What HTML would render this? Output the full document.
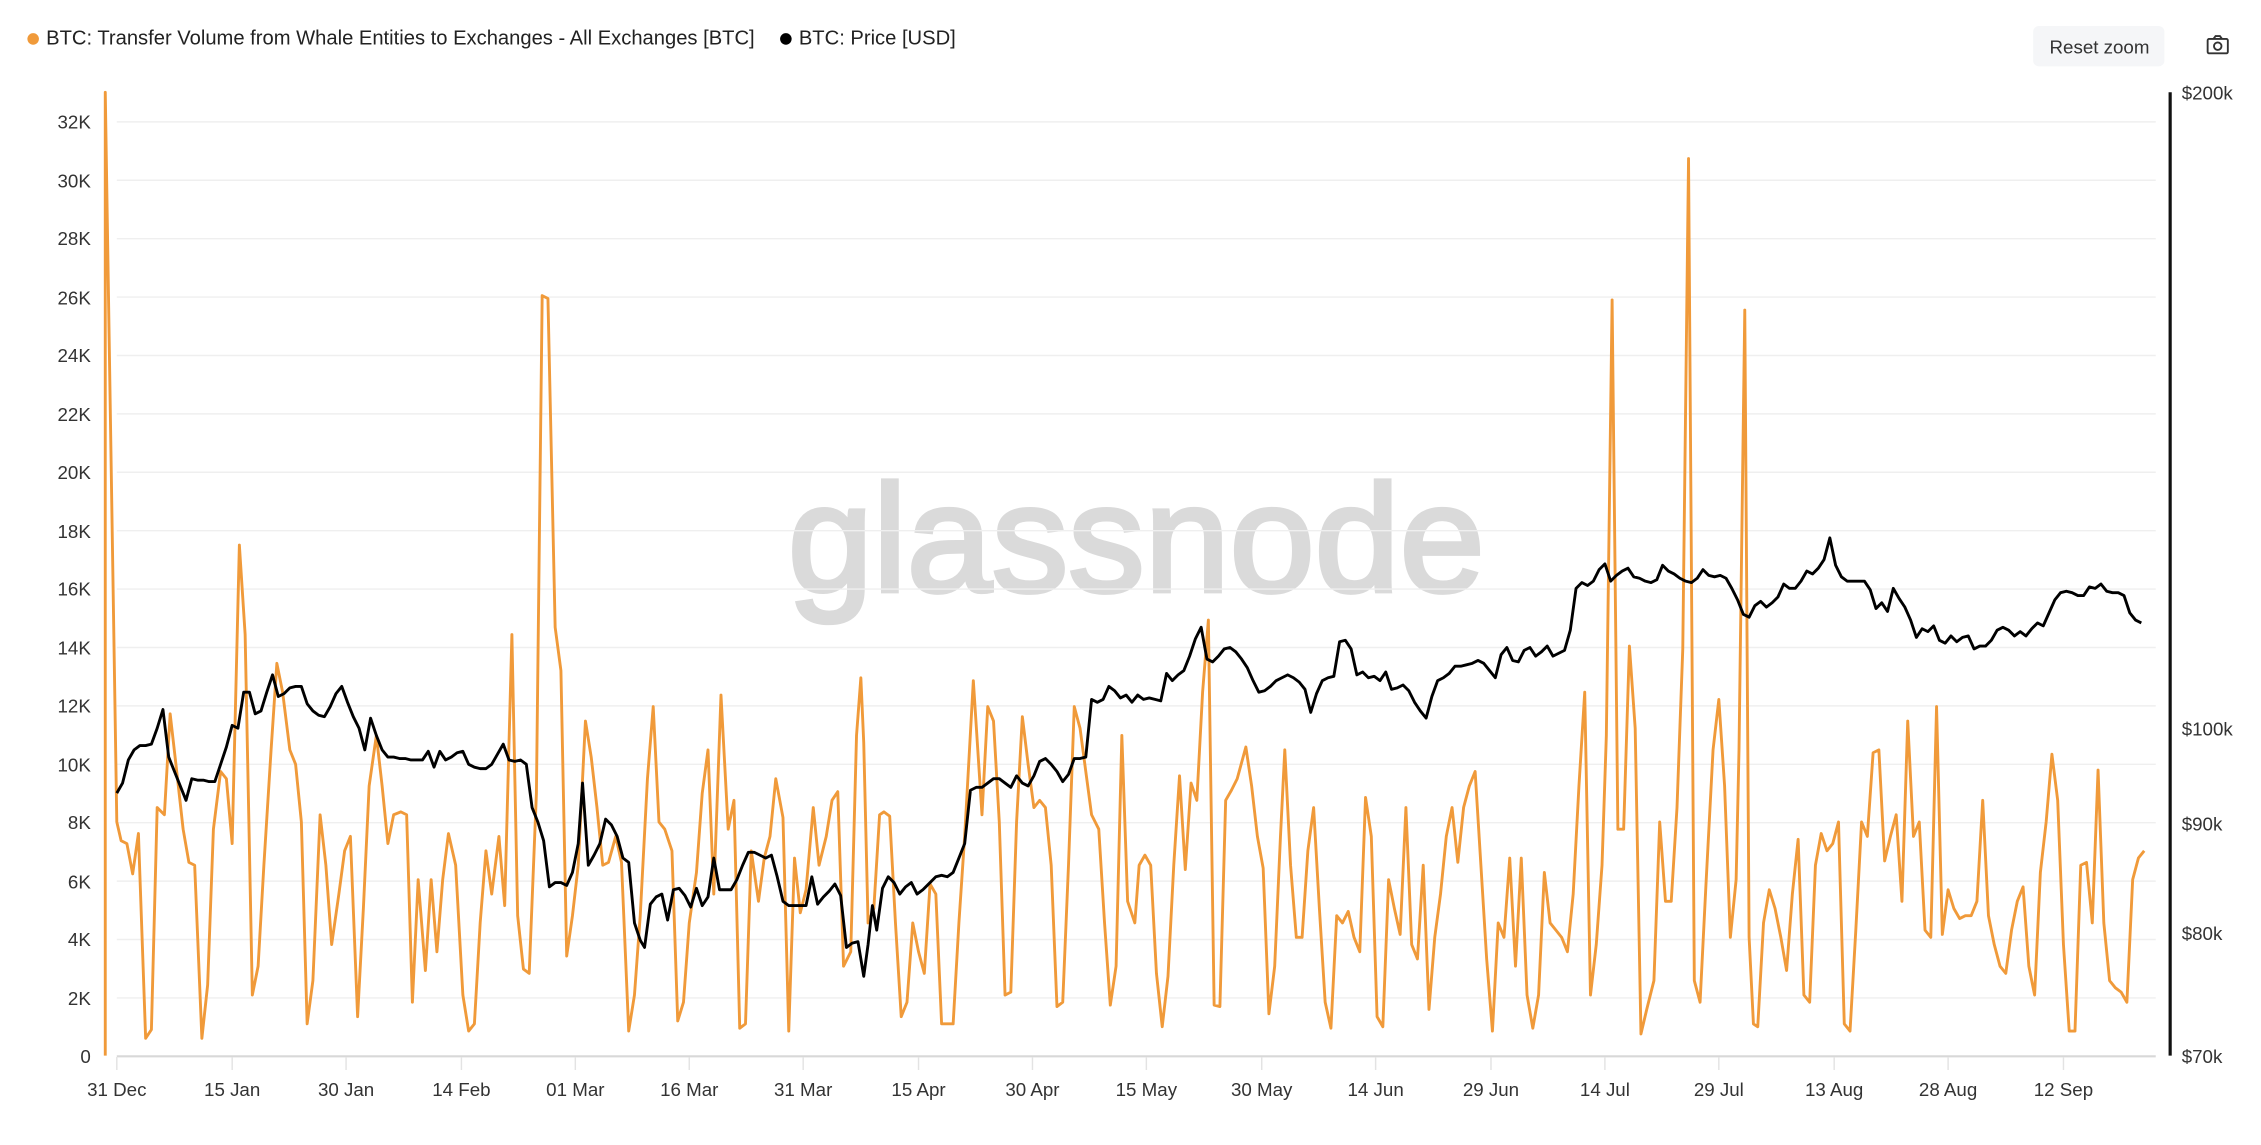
<!DOCTYPE html>
<html><head><meta charset="utf-8"><style>
html,body{margin:0;padding:0;background:#fff;}
svg{display:block;font-family:"Liberation Sans",sans-serif;}
</style></head><body>
<svg width="2261" height="1145" viewBox="0 0 1568 794" preserveAspectRatio="none" xmlns="http://www.w3.org/2000/svg">
<rect width="1568" height="794" fill="#fff"/>
<!-- legend -->
<circle cx="23" cy="27" r="4" fill="#f09a3a"/>
<text x="32" y="31" font-size="14" fill="#222">BTC: Transfer Volume from Whale Entities to Exchanges - All Exchanges [BTC]</text>
<circle cx="545" cy="27" r="4" fill="#000"/>
<text x="554" y="31" font-size="14" fill="#222">BTC: Price [USD]</text>
<rect x="1410" y="18" width="91" height="28" rx="4" fill="#f5f6f8"/>
<text x="1456" y="37" font-size="13" fill="#333" text-anchor="middle">Reset zoom</text>
<g fill="none" stroke="#333" stroke-width="1.3"><rect x="1531" y="27" width="14" height="10" rx="1"/><circle cx="1538" cy="32" r="2.6"/><path d="M1535 27 l1.5 -2 h3 l1.5 2"/></g>
<!-- watermark -->
<text x="788" y="410" font-size="106" fill="#dadada" stroke="#dadada" stroke-width="3" text-anchor="middle">glassnode</text>
<!-- grid -->
<g stroke="#efefef" stroke-width="1">
<line x1="81" x2="1495" y1="84.5" y2="84.5"/><line x1="81" x2="1495" y1="125" y2="125"/><line x1="81" x2="1495" y1="165.5" y2="165.5"/><line x1="81" x2="1495" y1="206" y2="206"/><line x1="81" x2="1495" y1="246.5" y2="246.5"/><line x1="81" x2="1495" y1="287" y2="287"/><line x1="81" x2="1495" y1="327.5" y2="327.5"/><line x1="81" x2="1495" y1="368" y2="368"/><line x1="81" x2="1495" y1="408.5" y2="408.5"/><line x1="81" x2="1495" y1="449" y2="449"/><line x1="81" x2="1495" y1="489.5" y2="489.5"/><line x1="81" x2="1495" y1="530" y2="530"/><line x1="81" x2="1495" y1="570.5" y2="570.5"/><line x1="81" x2="1495" y1="611" y2="611"/><line x1="81" x2="1495" y1="651.5" y2="651.5"/><line x1="81" x2="1495" y1="692" y2="692"/>
</g>
<line x1="81" x2="1495" y1="732.5" y2="732.5" stroke="#d8d8d8" stroke-width="1.5"/>
<g stroke="#e3e3e3" stroke-width="1">
<line x1="81" x2="81" y1="733" y2="742"/><line x1="161" x2="161" y1="733" y2="742"/><line x1="240" x2="240" y1="733" y2="742"/><line x1="320" x2="320" y1="733" y2="742"/><line x1="399" x2="399" y1="733" y2="742"/><line x1="478" x2="478" y1="733" y2="742"/><line x1="557" x2="557" y1="733" y2="742"/><line x1="637" x2="637" y1="733" y2="742"/><line x1="716" x2="716" y1="733" y2="742"/><line x1="795" x2="795" y1="733" y2="742"/><line x1="875" x2="875" y1="733" y2="742"/><line x1="954" x2="954" y1="733" y2="742"/><line x1="1034" x2="1034" y1="733" y2="742"/><line x1="1113" x2="1113" y1="733" y2="742"/><line x1="1192" x2="1192" y1="733" y2="742"/><line x1="1272" x2="1272" y1="733" y2="742"/><line x1="1351" x2="1351" y1="733" y2="742"/><line x1="1431" x2="1431" y1="733" y2="742"/>
</g>
<!-- left labels -->
<g font-size="13" fill="#333" text-anchor="end">
<text x="63" y="89">32K</text><text x="63" y="130">30K</text><text x="63" y="170">28K</text><text x="63" y="211">26K</text><text x="63" y="251">24K</text><text x="63" y="292">22K</text><text x="63" y="332">20K</text><text x="63" y="373">18K</text><text x="63" y="413">16K</text><text x="63" y="454">14K</text><text x="63" y="494">12K</text><text x="63" y="535">10K</text><text x="63" y="575">8K</text><text x="63" y="616">6K</text><text x="63" y="656">4K</text><text x="63" y="697">2K</text><text x="63" y="737">0</text>
</g>
<!-- x labels -->
<g font-size="13" fill="#333" text-anchor="middle">
<text x="81" y="760">31 Dec</text><text x="161" y="760">15 Jan</text><text x="240" y="760">30 Jan</text><text x="320" y="760">14 Feb</text><text x="399" y="760">01 Mar</text><text x="478" y="760">16 Mar</text><text x="557" y="760">31 Mar</text><text x="637" y="760">15 Apr</text><text x="716" y="760">30 Apr</text><text x="795" y="760">15 May</text><text x="875" y="760">30 May</text><text x="954" y="760">14 Jun</text><text x="1034" y="760">29 Jun</text><text x="1113" y="760">14 Jul</text><text x="1192" y="760">29 Jul</text><text x="1272" y="760">13 Aug</text><text x="1351" y="760">28 Aug</text><text x="1431" y="760">12 Sep</text>
</g>
<!-- right axis -->
<line x1="1505" x2="1505" y1="64" y2="732" stroke="#111" stroke-width="2.2"/>
<g font-size="13" fill="#333">
<text x="1513" y="69">$200k</text><text x="1513" y="510">$100k</text><text x="1513" y="576">$90k</text><text x="1513" y="652">$80k</text><text x="1513" y="737">$70k</text>
</g>
<!-- orange series -->
<polyline fill="none" stroke="#f09a3a" stroke-width="2" stroke-linejoin="round" points="73,732 73,64 81,570 84,583 88,585 92,606 96,578 101,720 105,714 109,560 114,565 118,495 122,530 127,575 131,598 135,600 140,720 144,683 148,575 153,535 157,540 161,585 166,378 170,440 175,690 179,670 183,600 188,520 192,460 196,480 201,520 205,530 209,570 213,710 217,680 222,565 226,600 230,655 235,620 239,590 243,580 248,705 252,630 256,545 261,510 265,545 269,585 273,565 278,563 282,565 286,695 290,610 295,673 299,610 303,660 307,610 311,578 316,600 321,690 325,715 329,710 333,640 337,590 341,620 346,580 350,628 355,440 359,635 363,672 367,675 372,550 376,205 380,207 385,435 389,465 393,663 397,635 401,600 406,500 410,525 414,560 418,600 422,598 427,580 431,598 436,715 440,690 444,635 449,540 453,490 457,570 461,575 466,590 470,708 474,695 478,640 483,605 487,550 491,520 495,620 500,482 505,575 509,555 513,713 517,710 521,590 526,625 530,595 534,580 538,540 543,567 547,715 551,595 555,633 559,617 564,560 568,600 573,580 577,555 581,549 585,670 590,660 594,510 597,470 599,515 602,640 606,630 610,565 613,563 617,566 621,640 625,705 629,695 633,640 637,660 641,675 645,613 649,620 653,710 657,710 661,710 665,640 669,580 675,472 681,565 685,490 689,500 693,570 697,690 701,688 705,570 709,497 713,530 717,560 721,555 725,560 729,600 733,698 737,695 741,600 745,490 749,505 753,535 757,565 762,575 766,640 770,697 774,670 778,510 782,625 787,640 790,600 794,593 798,600 802,675 806,712 810,677 814,600 818,538 822,603 826,543 830,555 834,480 838,430 842,697 846,698 850,555 854,548 858,540 864,518 868,545 872,580 876,602 880,703 884,670 888,580 891,520 895,600 899,650 903,650 907,590 911,560 915,630 919,695 923,713 927,635 931,640 935,632 939,650 943,660 947,553 951,580 955,705 959,712 963,610 967,630 971,648 975,560 979,655 983,665 987,600 991,700 995,650 999,620 1003,580 1007,560 1011,598 1015,560 1019,545 1023,535 1027,600 1031,665 1035,715 1039,640 1043,650 1047,595 1051,670 1055,595 1059,690 1063,713 1067,690 1071,605 1075,640 1079,645 1083,650 1087,660 1091,620 1095,545 1099,480 1103,690 1107,655 1111,600 1114,510 1118,208 1122,575 1126,575 1130,448 1134,505 1138,717 1142,700 1147,680 1151,570 1155,625 1159,625 1163,560 1167,450 1171,110 1175,680 1179,695 1183,615 1188,520 1192,485 1196,545 1200,650 1204,610 1206,520 1210,215 1213,650 1216,710 1219,712 1223,640 1227,617 1231,630 1235,650 1239,673 1243,620 1247,582 1251,690 1255,695 1259,600 1263,578 1267,590 1271,585 1275,570 1279,710 1283,715 1287,645 1291,570 1295,580 1299,522 1303,520 1307,597 1311,580 1315,565 1319,625 1323,500 1327,580 1331,570 1335,645 1339,650 1343,490 1347,648 1351,617 1355,630 1359,637 1363,635 1367,635 1371,625 1375,555 1379,635 1383,655 1387,670 1391,675 1395,645 1399,625 1403,615 1407,670 1411,690 1415,605 1419,570 1423,523 1427,555 1431,655 1435,715 1439,715 1443,600 1447,598 1451,640 1455,534 1459,640 1463,680 1467,685 1471,688 1475,695 1479,610 1483,595 1487,590"/>
<!-- black price -->
<polyline fill="none" stroke="#000" stroke-width="2" stroke-linejoin="round" points="81,550 85,543 89,527 93,520 97,517 101,517 105,516 109,505 113,492 117,525 121,535 125,545 129,555 133,540 137,541 141,541 145,542 149,542 153,530 157,518 161,503 165,505 169,480 173,480 177,495 181,493 185,480 189,468 193,483 197,481 201,477 205,476 209,476 213,488 217,493 221,496 225,497 229,490 233,481 237,476 241,487 245,497 249,505 253,520 257,498 261,510 265,520 269,525 273,525 277,526 281,526 285,527 289,527 293,527 297,521 301,532 305,521 309,527 313,525 317,522 321,521 325,530 329,532 333,533 337,533 341,530 345,523 349,516 353,527 357,528 361,527 365,530 369,560 373,570 377,583 381,615 385,612 389,612 393,614 397,605 401,585 404,543 408,600 412,593 416,585 420,568 424,572 428,580 432,595 436,598 440,640 444,652 447,657 451,627 455,622 459,620 463,638 467,617 471,616 475,621 479,629 483,616 487,628 491,622 495,595 499,617 503,617 507,617 511,610 515,600 519,591 523,591 527,593 531,595 535,593 539,608 543,625 547,628 551,628 555,628 559,628 563,608 567,627 571,622 575,618 579,613 583,621 587,657 591,654 595,653 599,677 602,655 605,628 608,645 612,616 616,608 620,612 624,620 628,615 632,612 636,620 640,617 645,612 649,608 653,607 657,608 661,605 665,595 669,585 673,548 677,546 681,546 685,543 689,540 693,540 697,543 701,546 705,538 709,543 713,545 717,538 721,528 725,526 729,530 733,535 737,542 741,537 745,526 749,526 753,525 757,485 761,487 765,485 769,476 773,479 777,484 781,482 785,487 789,482 793,485 797,484 801,485 805,486 809,467 813,472 817,468 821,465 825,455 829,443 833,435 837,457 841,459 845,455 849,450 853,449 857,452 861,457 865,463 869,472 873,480 877,479 881,476 885,472 889,470 893,468 897,470 901,473 905,478 909,494 913,481 917,472 921,470 925,469 929,445 933,444 937,450 941,468 945,466 949,470 953,469 957,472 961,466 965,478 969,477 973,475 977,479 981,487 985,493 989,498 993,483 997,472 1001,470 1005,467 1009,462 1013,462 1017,461 1021,460 1025,458 1029,460 1033,465 1037,470 1041,454 1045,449 1049,458 1053,459 1057,451 1061,449 1065,455 1069,452 1073,448 1077,455 1081,453 1085,451 1089,437 1093,408 1097,404 1101,406 1105,403 1109,395 1113,391 1117,403 1121,399 1125,396 1129,394 1133,400 1137,401 1141,403 1145,404 1149,402 1153,392 1157,396 1161,398 1165,401 1169,403 1173,404 1177,401 1181,395 1185,399 1189,400 1193,399 1197,401 1201,408 1205,416 1209,426 1213,428 1217,420 1221,417 1225,421 1229,418 1233,414 1237,405 1241,408 1245,408 1249,403 1253,396 1257,398 1261,394 1265,388 1269,373 1273,392 1277,400 1281,403 1285,403 1289,403 1293,403 1297,409 1301,422 1305,418 1309,424 1313,408 1317,415 1321,421 1325,430 1329,442 1333,436 1337,438 1341,434 1345,444 1349,446 1353,441 1357,445 1361,442 1365,441 1369,450 1373,448 1377,448 1381,444 1385,437 1389,435 1393,437 1397,441 1401,438 1405,441 1409,436 1413,432 1417,434 1421,425 1425,416 1429,411 1433,410 1437,411 1441,413 1445,413 1449,407 1453,408 1457,405 1461,410 1465,411 1469,411 1473,413 1477,425 1481,430 1485,432"/>
</svg>
</body></html>
